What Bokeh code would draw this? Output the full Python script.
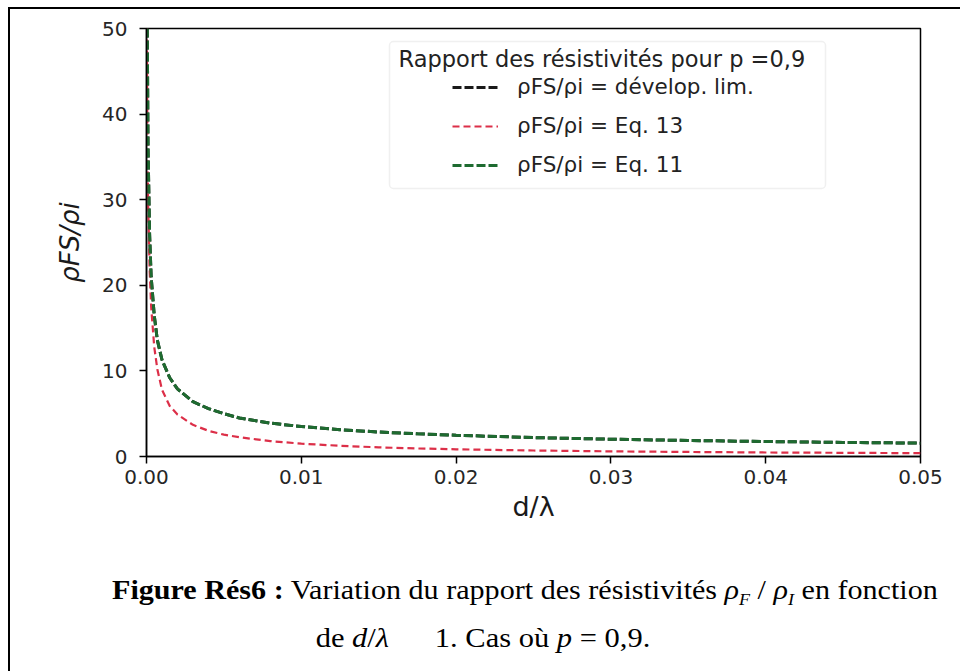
from bokeh.plotting import figure
from bokeh.models import (Range1d, FixedTicker, Legend, LegendItem, Label,
                          BoxAnnotation, Div)
from bokeh.layouts import column
from bokeh.core.properties import value
from bokeh.embed import file_html
from bokeh.resources import INLINE

# ---------------- data ----------------
x_tick_vals = [0.0, 0.01, 0.02, 0.03, 0.04, 0.05]
x_tick_labels = ["0.00", "0.01", "0.02", "0.03", "0.04", "0.05"]
y_tick_vals = [0, 10, 20, 30, 40, 50]

x_dl = [0.00005, 0.0001, 0.0002, 0.0003, 0.0005, 0.0007, 0.001, 0.0015, 0.002,
        0.003, 0.004, 0.005, 0.006, 0.008, 0.010, 0.0125, 0.015, 0.0175, 0.02,
        0.025, 0.03, 0.035, 0.04, 0.045, 0.05]
devlim_vals = [50, 36, 26, 21, 16.5, 13.6, 11.3, 9.2, 7.9, 6.4, 5.6, 5.0, 4.5,
               3.9, 3.5, 3.13, 2.86, 2.65, 2.48, 2.21, 2.02, 1.87, 1.75, 1.65, 1.56]

x_eq11 = [0.00005, 0.0001, 0.0002, 0.0003, 0.0005, 0.0007, 0.001, 0.0015, 0.002,
          0.003, 0.004, 0.005, 0.006, 0.008, 0.010, 0.0125, 0.015, 0.0175, 0.02,
          0.025, 0.03, 0.035, 0.04, 0.045, 0.05]
eq11_vals = [50, 36, 26, 21, 16.5, 13.6, 11.3, 9.2, 7.9, 6.4, 5.6, 5.0, 4.5,
             3.9, 3.5, 3.13, 2.86, 2.65, 2.48, 2.21, 2.02, 1.87, 1.75, 1.65, 1.56]

x_eq13 = [0.00003, 0.00005, 0.0001, 0.0002, 0.0003, 0.0005, 0.0007, 0.001, 0.0015,
          0.002, 0.003, 0.004, 0.005, 0.006, 0.008, 0.010, 0.0125, 0.015, 0.0175,
          0.02, 0.025, 0.03, 0.035, 0.04, 0.045, 0.05]
eq13_vals = [50, 40, 30, 22, 17.5, 12.8, 10.2, 7.8, 5.9, 4.9, 3.7, 3.0, 2.55,
             2.25, 1.8, 1.5, 1.25, 1.07, 0.94, 0.84, 0.70, 0.60, 0.53, 0.47, 0.43, 0.39]

series_labels = ["ρFS/ρi = dévelop. lim.", "ρFS/ρi = Eq. 13", "ρFS/ρi = Eq. 11"]
legend_title = "Rapport des résistivités pour p =0,9"
x_label = "d/λ"
y_label = "ρFS/ρi"

# ---------------- layout helpers (page pixel -> data) ----------------
FX0, FX1, FY0, FY1 = 146, 920, 28, 456   # frame edges on the page
OX, OY = 10, 9                            # canvas origin on the page


def dx(px):
    return (px - FX0) / (FX1 - FX0) * 0.05


def dy(py):
    return (FY1 - py) / (FY1 - FY0) * 50


W, H = 948, 530
p = figure(width=W, height=H, x_range=Range1d(0, 0.05), y_range=Range1d(0, 50),
           output_backend="svg", toolbar_location=None,
           min_border_left=FX0 - OX, min_border_right=W - (FX1 - OX),
           min_border_top=FY0 - OY, min_border_bottom=H - (FY1 - OY))
p.background_fill_color = "white"
p.border_fill_color = "white"
p.xgrid.visible = False
p.ygrid.visible = False
p.outline_line_color = "black"
p.outline_line_width = 1.5
p.outline_line_alpha = 1.0

for ax in (p.xaxis[0], p.yaxis[0]):
    ax.axis_line_color = "black"
    ax.axis_line_width = 1.5
    ax.major_tick_line_color = "black"
    ax.major_tick_line_width = 1.5
    ax.major_tick_in = 0
    ax.major_tick_out = 7
    ax.minor_tick_line_color = None
    ax.major_label_text_font = "DejaVu Sans"
    ax.major_label_text_font_size = "20px"
    ax.major_label_text_color = "#262626"
    ax.axis_label_text_font = "DejaVu Sans"
    ax.axis_label_text_color = "#1a1a1a"

p.xaxis[0].ticker = FixedTicker(ticks=x_tick_vals)
p.xaxis[0].major_label_overrides = {v: s for v, s in zip(x_tick_vals, x_tick_labels)}
p.xaxis[0].major_label_standoff = 6
p.xaxis[0].axis_label = x_label
p.xaxis[0].axis_label_text_font_size = "27px"
p.xaxis[0].axis_label_text_font_style = "normal"
p.xaxis[0].axis_label_standoff = 4

p.yaxis[0].ticker = FixedTicker(ticks=y_tick_vals)
p.yaxis[0].major_label_standoff = 12
p.yaxis[0].axis_label = y_label
p.yaxis[0].axis_label_text_font_size = "26px"
p.yaxis[0].axis_label_text_font_style = "italic"
p.yaxis[0].axis_label_standoff = 14

r_black = p.line(x=x_dl, y=devlim_vals, line_color="#1a1a1a", line_width=3, line_dash="9 3")
r_red = p.line(x=x_eq13, y=eq13_vals, line_color="#dc2f48", line_width=2.2, line_dash="7 4")
r_green = p.line(x=x_eq11, y=eq11_vals, line_color="#1e6b30", line_width=3, line_dash="9 3")

# legend frame + title
box = BoxAnnotation(left=dx(389), right=dx(825), top=dy(41), bottom=dy(188),
                    fill_color="white", fill_alpha=0.85, line_color="#cccccc",
                    line_width=1.5, border_radius=4)
p.add_layout(box)
p.add_layout(Label(x=dx(398), y=dy(58), text=legend_title, text_font="DejaVu Sans",
                   text_font_size="22.5px", text_color="#222222",
                   text_baseline="middle", text_align="left"))

legend = Legend(items=[LegendItem(label=value(series_labels[0]), renderers=[r_black]),
                       LegendItem(label=value(series_labels[1]), renderers=[r_red]),
                       LegendItem(label=value(series_labels[2]), renderers=[r_green])],
                location=(452 - FX0, FY1 - 177), orientation="vertical",
                glyph_width=46, glyph_height=20, label_height=20, label_standoff=19,
                spacing=14, padding=0, margin=0, border_line_color=None,
                background_fill_alpha=0, label_text_font="DejaVu Sans",
                label_text_font_size="21.5px", label_text_color="#222222")
p.add_layout(legend, "center")

# caption (HTML, below the chart)
sub = "font-size:60%; line-height:0;"
caption_html = (
    "<div style=\"font-family:'Liberation Serif','Times New Roman',serif; font-size:27px;"
    " color:black; line-height:48px;\">"
    "<div style='padding-left:97px; white-space:nowrap; transform:scaleX(1.115);"
    " transform-origin:97px 50%;'><b>Figure Rés6 :</b> "
    "Variation du rapport des résistivités <i>ρ<sub style='" + sub + "'>F</sub></i> / "
    "<i>ρ<sub style='" + sub + "'>I</sub></i> en fonction</div>"
    "<div style='width:936px; text-align:center; white-space:nowrap; transform:scaleX(1.13);"
    " transform-origin:468px 50%;'>de <i>d</i>/<i>λ</i>"
    "&nbsp;&nbsp;&nbsp;&nbsp;&nbsp; 1. Cas où <i>p</i> = 0,9.</div>"
    "</div>"
)
cap = Div(text=caption_html, width=W, height=123,
          styles={"padding-top": "22px"})

layout = column(p, cap, spacing=0,
                styles={"margin-left": "8px", "margin-top": "7px",
                        "border-left": "2px solid black", "border-top": "2px solid black"})

open("out.html", "w").write(file_html(layout, INLINE))
